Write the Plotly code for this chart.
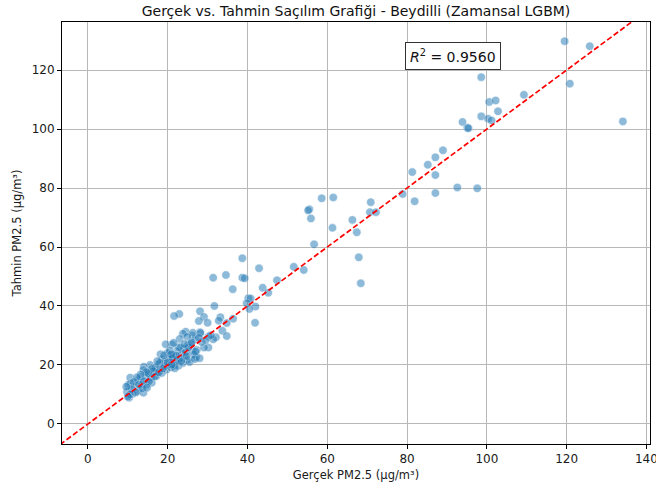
import plotly.graph_objects as go

# Observed (gercek) and predicted (tahmin) PM2.5 values, µg/m³
gercek = [
    119.5, 125.8, 120.8, 134.1, 98.6, 109.3, 100.6, 102.2, 102.8, 98.6,
    100.3, 101.2, 93.9, 95.1, 95.4, 97.6, 92.6, 89.0, 87.1, 85.2,
    81.3, 87.1, 78.9, 81.9, 87.1, 58.6, 61.5, 55.5, 55.2, 55.9,
    70.9, 70.7, 72.2, 66.3, 61.3, 67.4, 56.7, 67.9, 68.4, 51.6,
    54.1, 38.7, 42.9, 31.4, 34.6, 38.7, 39.3, 36.3, 47.4, 43.8,
    45.2, 40.2, 40.8, 39.8, 42.0, 40.5, 41.9, 31.7, 28.1, 29.1,
    27.8, 30.0, 33.2, 32.8, 36.4, 34.8, 33.7, 34.8, 32.1, 31.4,
    30.2, 28.1, 22.9, 21.6, 24.5, 26.2, 26.9,
    23.8, 26.3, 28.2, 30.2, 19.5, 21.1, 23.0, 24.9, 23.3, 25.1,
    26.1, 27.3, 29.1, 27.1, 18.2, 18.6, 19.9, 21.4, 24.3, 25.0,
    22.5, 20.6, 21.6, 22.7, 23.8, 19.7, 17.6, 17.9, 15.6, 14.0,
    13.9, 15.0, 16.2, 17.2, 15.9, 14.4, 13.3, 12.5, 10.6, 10.7,
    11.6, 13.5, 14.7, 16.0, 12.5, 13.9, 10.1, 9.8, 11.2, 10.3,
    26.5, 28.5, 29.5, 25.8, 24.0, 27.8, 30.8, 22.3, 23.5, 21.0,
    25.5, 26.8, 28.0, 27.0, 24.6, 23.0, 22.0, 20.3, 19.0, 18.0,
    17.0, 16.5, 18.5, 19.3, 20.8, 21.8, 23.4, 24.7, 16.0, 15.2,
    14.6, 13.2, 12.3, 11.5, 12.8, 14.0, 15.3, 16.8, 17.8, 18.8,
    20.0, 21.0, 13.6, 11.0, 12.0, 10.5, 14.8, 9.6, 10.0, 17.4,
    19.1, 20.5, 22.8, 25.2, 21.5, 21.2, 22.1, 20.9, 24.2, 26.0,
]
tahmin = [
    129.8, 128.1, 115.4, 102.6, 117.6, 111.6, 109.2, 109.7, 106.0, 104.3,
    103.5, 102.9, 102.4, 100.4, 100.3, 79.9, 80.2, 92.8, 90.4, 87.9,
    85.4, 84.4, 78.0, 75.5, 78.3, 76.5, 76.8, 72.8, 72.4, 69.7,
    75.2, 71.8, 71.8, 69.2, 66.5, 65.0, 60.9, 56.5, 47.7, 53.3,
    52.2, 56.2, 52.8, 49.6, 50.5, 49.6, 49.4, 45.7, 48.7, 46.2,
    44.5, 42.6, 42.5, 40.9, 39.8, 39.0, 34.3, 40.0, 38.2, 36.3,
    34.9, 34.3, 36.2, 35.0, 35.7, 34.2, 31.6, 29.8, 29.4, 28.7,
    25.9, 31.1, 37.3, 36.6, 31.3, 29.9, 28.8,
    30.6, 30.9, 30.8, 29.6, 27.0, 26.9, 28.8, 29.5, 25.9, 26.8,
    25.0, 25.1, 25.9, 22.6, 23.6, 22.0, 24.0, 23.3, 22.8, 21.7,
    21.6, 20.4, 19.9, 19.7, 20.7, 18.4, 20.0, 18.2, 20.0, 19.4,
    18.3, 17.4, 17.9, 16.3, 15.7, 15.5, 16.0, 14.9, 15.7, 13.8,
    12.5, 13.2, 13.3, 14.0, 11.2, 10.6, 13.2, 10.9, 10.2, 8.9,
    23.5, 27.8, 28.4, 27.2, 25.5, 29.2, 30.1, 24.6, 23.8, 22.3,
    21.0, 22.0, 22.3, 24.5, 24.4, 22.2, 21.0, 21.8, 21.0, 20.7,
    19.2, 17.8, 17.3, 19.6, 19.2, 18.9, 21.3, 23.0, 18.7, 16.9,
    17.6, 16.8, 15.8, 14.2, 13.4, 14.5, 14.4, 16.1, 17.5, 18.8,
    20.9, 20.1, 12.0, 11.8, 10.7, 10.0, 12.3, 12.6, 9.3, 21.3,
    23.3, 24.8, 26.0, 26.0, 27.5, 22.4, 23.1, 23.6, 27.1, 27.6,
]
x_ticks = [0, 20, 40, 60, 80, 100, 120, 140]
y_ticks = [0, 20, 40, 60, 80, 100, 120]
r2_text = "0.9560"

x_range = [-6.5, 140.9]
y_range = [-6.8, 136.3]
line_lo, line_hi = -7.0, 141.0

fig = go.Figure()

fig.add_trace(go.Scatter(
    x=gercek, y=tahmin, mode="markers",
    marker=dict(size=8.5, color="#1f77b4", opacity=0.5,
                line=dict(color="white", width=0.6)),
    showlegend=False, hoverinfo="x+y",
))

# Perfect-prediction reference line y = x
fig.add_trace(go.Scatter(
    x=[line_lo, line_hi], y=[line_lo, line_hi], mode="lines",
    line=dict(color="red", width=1.7, dash="5.5px,2.6px"),
    showlegend=False, hoverinfo="skip",
))

axis_common = dict(
    showline=True, mirror=True, linecolor="black", linewidth=1,
    ticks="outside", ticklen=4, tickcolor="black", tickwidth=1,
    showgrid=True, gridcolor="#b8b8b8", gridwidth=1,
    zeroline=False, tickmode="array", ticklabeloverflow="allow",
    automargin=False,
    tickfont=dict(family="DejaVu Sans", size=12, color="#1a1a1a"),
)

fig.update_layout(
    width=656, height=488,
    margin=dict(l=62, r=6, t=22, b=44),
    paper_bgcolor="white", plot_bgcolor="white",
    title=dict(
        text="Gerçek vs. Tahmin Saçılım Grafiği - Beydilli (Zamansal LGBM)",
        x=(62 + 294) / 656, xanchor="center", y=0.977, yanchor="middle",
        font=dict(family="DejaVu Sans", size=14, color="#111"),
    ),
    xaxis=dict(range=x_range, tickvals=x_ticks,
               ticktext=[str(v) for v in x_ticks],
               title=dict(text="Gerçek PM2.5 (μg/m³)", standoff=5,
                          font=dict(family="DejaVu Sans", size=11.5, color="#1a1a1a")),
               **axis_common),
    yaxis=dict(range=y_range, tickvals=y_ticks,
               ticktext=[str(v) for v in y_ticks],
               title=dict(text="Tahmin PM2.5 (μg/m³)", standoff=7,
                          font=dict(family="DejaVu Sans", size=11.5, color="#1a1a1a")),
               **axis_common),
    annotations=[dict(
        text="<i>R</i><sup>2</sup> = " + r2_text,
        xref="paper", yref="paper", x=0.583, y=0.953,
        xanchor="left", yanchor="top", showarrow=False,
        font=dict(family="DejaVu Sans", size=14, color="#111"),
        bgcolor="white", bordercolor="#333", borderwidth=1, borderpad=4,
    )],
)

fig.write_html("out.html")
